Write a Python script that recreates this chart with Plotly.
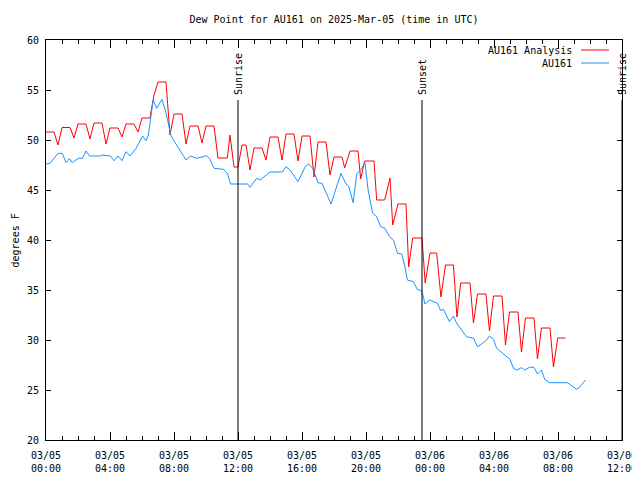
import pandas as pd
import plotly.graph_objects as go

BASE = pd.Timestamp("2025-03-05 00:00")

# AU161 Analysis (red) : minutes after 2025-03-05 00:00 UTC, dew point degF
red_min = [0, 30, 45, 60, 90, 105, 120, 150, 165, 180, 210, 225, 240, 270, 285,
           300, 330, 345, 360, 390, 395, 405, 420, 450, 465, 480, 510, 525, 540,
           570, 585, 600, 630, 645, 680, 690, 705, 720, 735, 750, 765, 780, 810,
           825, 840, 870, 885, 900, 930, 945, 960, 990, 1005, 1020, 1050, 1065,
           1080, 1110, 1120, 1140, 1170, 1180, 1195, 1230, 1240, 1270, 1290, 1300,
           1320, 1350, 1360, 1375, 1410, 1422, 1440, 1465, 1481, 1498, 1528, 1541,
           1555, 1590, 1603, 1618, 1650, 1663, 1678, 1710, 1723, 1738, 1770, 1783,
           1798, 1830, 1843, 1858, 1890, 1903, 1919, 1948]
red_val = [50.8, 50.8, 49.5, 51.25, 51.25, 50.2, 51.6, 51.6, 50.1, 51.7, 51.7, 49.6,
           51.2, 51.2, 50.3, 51.6, 51.6, 50.8, 52.2, 52.2, 53.0, 54.5, 55.8, 55.8,
           50.5, 52.6, 52.6, 49.6, 51.4, 51.4, 49.7, 51.4, 51.4, 48.2, 48.2, 50.5,
           47.3, 47.3, 49.5, 49.5, 47.0, 49.2, 49.2, 48.0, 50.3, 50.3, 48.0, 50.6,
           50.6, 47.9, 50.4, 50.4, 46.3, 49.8, 49.8, 46.5, 48.3, 48.3, 47.2, 48.9,
           48.9, 46.1, 47.9, 47.9, 44.0, 44.0, 46.2, 41.5, 43.6, 43.6, 37.3, 40.2,
           40.2, 35.7, 38.7, 38.7, 34.3, 37.5, 37.5, 32.3, 35.7, 35.7, 31.7, 34.6,
           34.6, 30.9, 34.4, 34.4, 29.5, 32.8, 32.8, 28.8, 32.2, 32.2, 28.1, 31.2,
           31.2, 27.3, 30.2, 30.2]

# AU161 observations (blue)
blue_min = [0, 15, 45, 61, 75, 88, 98, 121, 137, 150, 163, 203, 212, 242, 255, 270,
            285, 300, 315, 338, 362, 375, 384, 402, 415, 435, 450, 468, 478, 500,
            525, 542, 565, 602, 615, 630, 665, 680, 692, 756, 765, 790, 803, 840,
            887, 900, 915, 945, 972, 985, 1000, 1020, 1035, 1069, 1088, 1106, 1125,
            1135, 1152, 1165, 1180, 1196, 1208, 1225, 1240, 1255, 1271, 1288, 1303,
            1318, 1334, 1346, 1355, 1378, 1392, 1409, 1416, 1421, 1438, 1468, 1480,
            1490, 1513, 1528, 1540, 1559, 1577, 1603, 1618, 1634, 1652, 1663, 1678,
            1690, 1740, 1753, 1765, 1783, 1795, 1813, 1830, 1843, 1858, 1870, 1888,
            1955, 1967, 1990, 2003, 2023]
blue_val = [47.6, 47.67, 48.67, 48.67, 47.73, 48.17, 47.73, 48.17, 48.17, 48.9, 48.4,
            48.4, 48.5, 48.4, 47.93, 48.4, 47.93, 48.83, 48.4, 49.17, 50.4, 49.93,
            50.5, 54.0, 53.17, 54.07, 52.73, 50.5, 50.0, 49.0, 48.0, 48.4, 48.17,
            48.43, 48.07, 47.17, 47.07, 46.67, 45.6, 45.6, 45.27, 46.17, 46.0, 46.8,
            46.8, 47.33, 47.0, 45.83, 47.33, 47.6, 47.17, 45.73, 45.67, 43.6, 45.07,
            46.67, 45.6, 45.4, 43.73, 46.6, 47.0, 47.73, 45.0, 42.67, 42.33, 41.33,
            41.17, 40.33, 40.0, 38.67, 38.6, 37.33, 36.0, 35.83, 35.07, 34.93, 34.2,
            33.6, 34.0, 33.67, 32.93, 33.07, 31.83, 32.4, 31.67, 31.0, 30.33, 30.17,
            29.33, 29.6, 30.0, 30.4, 30.07, 29.17, 28.07, 27.17, 27.0, 27.23, 27.0,
            27.27, 27.27, 26.6, 27.0, 26.07, 25.73, 25.73, 25.5, 25.07, 25.33, 26.0]

event_names = ["Sunrise", "Sunset", "Sunrise"]
event_times = ["2025-03-05 12:00", "2025-03-05 23:30", "2025-03-06 12:00"]
event_top = 54

series_names = ["AU161 Analysis", "AU161"]
series_colors = ["#ff0000", "#1e90ff"]

FONT = "DejaVu Sans Mono"

red_x = BASE + pd.to_timedelta(red_min, unit="m")
blue_x = BASE + pd.to_timedelta(blue_min, unit="m")

fig = go.Figure()
fig.add_trace(go.Scatter(x=red_x, y=red_val, mode="lines", name=series_names[0],
                         line=dict(color=series_colors[0], width=1), showlegend=False))
fig.add_trace(go.Scatter(x=blue_x, y=blue_val, mode="lines", name=series_names[1],
                         line=dict(color=series_colors[1], width=1), showlegend=False))

for name, t in zip(event_names, event_times):
    fig.add_shape(type="line", xref="x", yref="y", x0=t, x1=t, y0=20, y1=event_top,
                  line=dict(color="black", width=1))
    fig.add_annotation(x=t, y=event_top, xref="x", yref="y", text=name, textangle=-90,
                       showarrow=False, yanchor="bottom", yshift=3,
                       font=dict(family=FONT, size=10, color="black"))

# legend drawn manually (text right-aligned, sample line on the right)
leg_y = [0.975, 0.9425]
for name, col, ly in zip(series_names, series_colors, leg_y):
    fig.add_annotation(x=0.917, y=ly, xref="paper", yref="paper", text=name,
                       showarrow=False, xanchor="right", yanchor="middle",
                       font=dict(family=FONT, size=10, color="black"))
    fig.add_shape(type="line", xref="paper", yref="paper", x0=0.9288, x1=0.9774,
                  y0=ly, y1=ly, line=dict(color=col, width=1))

fig.add_annotation(x=-0.0556, y=0.5, xref="paper", yref="paper", text="degrees F",
                   textangle=-90, showarrow=False, xshift=-6,
                   font=dict(family=FONT, size=10, color="black"))

# page body has an 8px margin: figure is 632x472 so plot box lands at 46..622 x 40..440
fig.update_layout(
    width=632, height=472, autosize=False,
    margin=dict(l=38, r=18, t=32, b=40),
    paper_bgcolor="white", plot_bgcolor="white",
    title=dict(text="Dew Point for AU161 on 2025-Mar-05 (time in UTC)",
               x=0.5, xref="paper", y=1 - 11 / 472, yref="container",
               xanchor="center", yanchor="middle",
               font=dict(family=FONT, size=10, color="black")),
    font=dict(family=FONT, size=10, color="black"),
)
fig.update_xaxes(
    type="date", range=["2025-03-05 00:00", "2025-03-06 12:00"],
    tick0="2025-03-05 00:00", dtick=4 * 3600000, tickformat="%m/%d<br>%H:%M",
    ticks="inside", ticklen=8, tickcolor="black", tickwidth=1,
    minor=dict(dtick=3600000, ticks="inside", ticklen=4, tickcolor="black", showgrid=False),
    showline=True, linecolor="black", linewidth=1, mirror="ticks",
    showgrid=False, zeroline=False, automargin=False, ticklabelstandoff=6,
    ticklabeloverflow="allow",
    tickfont=dict(family=FONT, size=10, color="black"),
)
fig.update_yaxes(
    range=[20, 60], tick0=20, dtick=5,
    ticks="inside", ticklen=5, tickcolor="black", tickwidth=1,
    showline=True, linecolor="black", linewidth=1, mirror="ticks",
    showgrid=False, zeroline=False, automargin=False, ticklabelstandoff=4,
    tickfont=dict(family=FONT, size=10, color="black"),
)

fig.write_html("out.html")
